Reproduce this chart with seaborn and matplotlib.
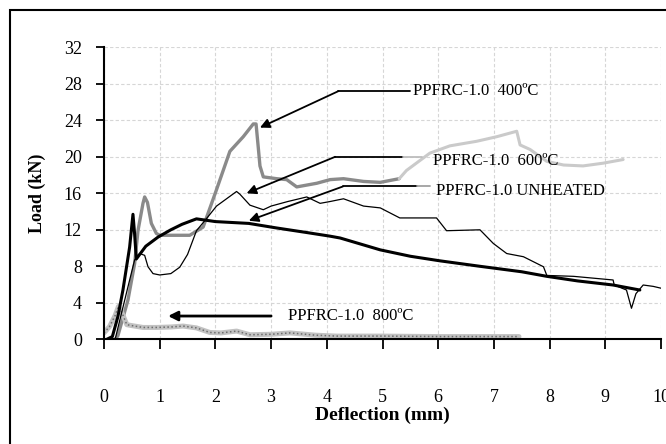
import matplotlib
matplotlib.use('Agg')
import matplotlib.pyplot as plt
from matplotlib.patches import Rectangle
import seaborn as sns

# load-deflection curves
unheated_x = [0.05, 0.15, 0.25, 0.34, 0.46, 0.52, 0.55, 0.58, 0.75, 0.97, 1.2, 1.4, 1.66, 2.0, 2.6,
              3.1, 3.64, 4.06, 4.24, 4.96, 5.5, 6.03, 6.75, 7.5, 7.95, 8.5, 9.14, 9.62]
unheated_y = [0.0, 0.3, 2.5, 5.4, 10.1, 13.7, 11.5, 8.8, 10.2, 11.2, 12.0, 12.6, 13.2, 12.9, 12.7,
              12.2, 11.7, 11.3, 11.1, 9.8, 9.1, 8.6, 8.0, 7.4, 6.9, 6.4, 5.95, 5.4]

t600_x = [0.2, 0.3, 0.42, 0.55, 0.64, 0.73, 0.79, 0.88, 1.0, 1.2, 1.36, 1.5, 1.66, 1.85, 2.02, 2.2,
          2.38, 2.44, 2.62, 2.86, 3.0, 3.3, 3.64, 3.88, 4.06, 4.3, 4.66, 4.96, 5.31, 5.97, 6.15,
          6.75, 6.99, 7.23, 7.53, 7.89, 7.95, 8.43, 9.14, 9.16, 9.38, 9.47, 9.55, 9.68, 9.86, 10.0]
t600_y = [0.0, 2.5, 5.5, 8.7, 9.4, 9.2, 7.95, 7.2, 7.05, 7.2, 7.9, 9.3, 11.9, 13.3, 14.6, 15.4,
          16.2, 15.9, 14.7, 14.2, 14.6, 15.1, 15.6, 14.9, 15.1, 15.4, 14.6, 14.4, 13.3, 13.3, 11.9,
          12.0, 10.5, 9.4, 9.05, 7.95, 7.0, 6.9, 6.5, 5.95, 5.4, 3.4, 5.0, 5.95, 5.8, 5.6]

t400_x = [0.2, 0.25, 0.43, 0.55, 0.61, 0.70, 0.73, 0.78, 0.85, 0.94, 1.0, 1.3, 1.54, 1.78, 2.02,
          2.26, 2.5, 2.68, 2.73, 2.77, 2.8, 2.86, 3.1, 3.28, 3.46, 3.82, 4.06, 4.3, 4.66, 4.96,
          5.3, 5.43, 5.85, 6.21, 6.69, 7.05, 7.41, 7.47, 7.65, 7.95, 8.25, 8.6, 8.96, 9.32]
t400_y = [0.0, 0.4, 4.3, 8.3, 11.9, 14.9, 15.6, 15.0, 12.7, 11.6, 11.4, 11.4, 11.4, 12.3, 16.4,
          20.6, 22.2, 23.6, 23.6, 21.0, 19.0, 17.8, 17.6, 17.5, 16.7, 17.1, 17.5, 17.6, 17.3, 17.2,
          17.6, 18.5, 20.4, 21.2, 21.7, 22.2, 22.8, 21.3, 20.8, 19.5, 19.1, 19.0, 19.3, 19.7]

t800_x = [0.0, 0.1, 0.2, 0.26, 0.3, 0.35, 0.41, 0.5, 0.7, 0.95, 1.2, 1.42, 1.66, 1.9, 2.1, 2.38,
          2.62, 3.0, 3.34, 3.8, 4.18, 5.0, 6.0, 7.0, 7.45]
t800_y = [0.7, 1.4, 2.6, 3.6, 3.2, 2.5, 1.6, 1.5, 1.3, 1.3, 1.35, 1.45, 1.25, 0.75, 0.7, 0.9,
          0.5, 0.55, 0.7, 0.45, 0.35, 0.35, 0.3, 0.3, 0.3]

x_ticks = [0, 1, 2, 3, 4, 5, 6, 7, 8, 9, 10]
y_ticks = [0, 4, 8, 12, 16, 20, 24, 28, 32]

sns.set_style('white', rc={'text.color': 'black', 'axes.labelcolor': 'black',
                           'xtick.color': 'black', 'ytick.color': 'black'})
plt.rcParams['font.family'] = ['Liberation Serif', 'DejaVu Serif']

fig = plt.figure(figsize=(6.66, 4.44), dpi=100)
ax = fig.add_axes([104 / 666, 1 - 339.3 / 444, 557 / 666, 292 / 444])

# 400 C curve fades to a lighter grey past ~5.3 mm in the original
split = t400_x.index(5.3) + 1
sns.lineplot(x=t400_x[:split], y=t400_y[:split], ax=ax, color='#8a8a8a', lw=2.4,
             sort=False, estimator=None)
sns.lineplot(x=t400_x[split - 1:], y=t400_y[split - 1:], ax=ax, color='#cacaca', lw=2.2,
             sort=False, estimator=None)

# 800 C: textured grey line
sns.lineplot(x=t800_x, y=t800_y, ax=ax, color='#c2c2c2', lw=3.6, sort=False, estimator=None)
sns.lineplot(x=t800_x, y=t800_y, ax=ax, color='#6e6e6e', lw=1.1, ls=(0, (1, 1.6)),
             sort=False, estimator=None)

sns.lineplot(x=t600_x, y=t600_y, ax=ax, color='black', lw=0.9, sort=False, estimator=None)
sns.lineplot(x=unheated_x, y=unheated_y, ax=ax, color='black', lw=2.2, sort=False, estimator=None)

ax.set_xlim(0, 10)
ax.set_ylim(0, 32)
ax.set_xticks(x_ticks)
ax.set_yticks(y_ticks)
ax.grid(True, color='#d6d6d6', ls=(0, (3, 2)), lw=0.8)
ax.set_axisbelow(True)
for side in ['top', 'right']:
    ax.spines[side].set_visible(False)
for side in ['left', 'bottom']:
    ax.spines[side].set_color('black')
    ax.spines[side].set_linewidth(1.5)
    ax.spines[side].set_zorder(5)

ax.tick_params(axis='x', direction='out', length=7, width=1.3, pad=29, labelsize=13,
               color='black', labelcolor='black', bottom=True)
ax.tick_params(axis='y', direction='out', length=6, width=1.3, pad=10, labelsize=13,
               color='black', labelcolor='black', left=True)

ax.set_xlabel('Deflection (mm)', fontsize=14, fontweight='bold', color='black')
ax.xaxis.set_label_coords(0.5, -0.232)
ax.set_ylabel('Load (kN)', fontsize=13, fontweight='bold', color='black')
ax.yaxis.set_label_coords(-0.105, 0.5)

arrow = dict(arrowstyle='-|>', color='black', lw=1.3, mutation_scale=14, shrinkA=0, shrinkB=0)

# 400 C leader
ax.plot([4.21, 5.5], [27.2, 27.2], color='black', lw=1.3)
ax.annotate('', xy=(2.8, 23.2), xytext=(4.21, 27.2), arrowprops=arrow)
ax.text(5.55, 27.2, 'PPFRC-1.0  400ºC', fontsize=12, va='center', ha='left', color='black')

# 600 C leader
ax.plot([4.15, 5.37], [20.0, 20.0], color='black', lw=1.3)
ax.plot([5.37, 5.71], [20.0, 20.0], color='#bdbdbd', lw=1.3)
ax.annotate('', xy=(2.56, 16.0), xytext=(4.15, 20.0), arrowprops=arrow)
ax.text(5.91, 19.5, 'PPFRC-1.0  600ºC', fontsize=12, va='center', ha='left', color='black')

# unheated leader
ax.plot([4.29, 5.62], [16.75, 16.75], color='black', lw=1.3)
ax.plot([5.62, 5.85], [16.75, 16.75], color='#a0a0a0', lw=1.3)
ax.annotate('', xy=(2.6, 13.0), xytext=(4.29, 16.75), arrowprops=arrow)
ax.text(5.96, 16.2, 'PPFRC-1.0 UNHEATED', fontsize=12, va='center', ha='left', color='black')

# 800 C leader
ax.annotate('', xy=(1.15, 2.55), xytext=(3.0, 2.55),
            arrowprops=dict(arrowstyle='-|>', color='black', lw=2.0, mutation_scale=14,
                            shrinkA=0, shrinkB=0))
ax.text(3.3, 2.6, 'PPFRC-1.0  800ºC', fontsize=12, va='center', ha='left', color='black')

# outer chart frame
fig.patches.append(Rectangle((9.5 / 666, -0.2), 1.5, 1.2 - 10.5 / 444, transform=fig.transFigure,
                             fill=False, ec='black', lw=1.5))

fig.savefig('out.png', dpi=100)
